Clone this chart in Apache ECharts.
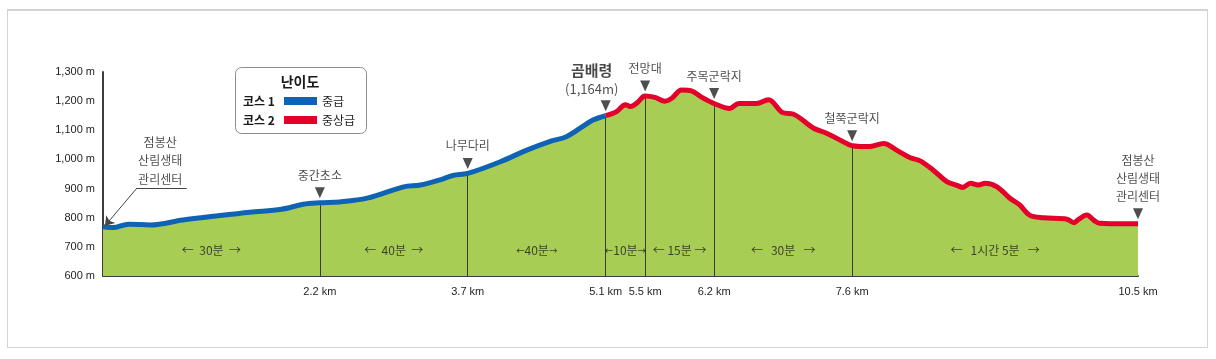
<!DOCTYPE html>
<html><head><meta charset="utf-8">
<script src="https://cdn.jsdelivr.net/npm/echarts@6/dist/echarts.min.js"></script>
<style>
html,body{margin:0;padding:0;background:#fff;}
#frame{position:absolute;left:7px;top:9px;width:1201px;height:339px;border:1px solid #d4d4d4;border-top:2px solid #d4d4d4;box-sizing:border-box;}
#chart{position:absolute;left:0;top:0;width:1216px;height:359px;}
</style></head><body>
<div id="frame"></div>
<div id="chart"></div>
<script>
// Course 1 (blue, 중급): distance km / elevation m
const kmCourse1   = [0.00,0.10,0.26,0.48,0.81,1.15,1.49,1.81,2.03,2.20,2.40,2.68,3.05,3.22,3.42,3.55,3.70,4.03,4.30,4.53,4.70,4.84,4.97,5.10];
const elevCourse1 = [769, 766, 778, 775, 792, 806, 819, 829, 846, 851, 854, 867, 906, 912, 930, 945, 952, 992, 1032,1061,1078,1107,1135,1150];
// Course 2 (red, 중상급)
const kmCourse2   = [5.10,5.21,5.30,5.35,5.42,5.50,5.60,5.70,5.77,5.87,5.97,6.08,6.20,6.36,6.45,6.63,6.75,6.90,7.00,7.21,7.34,7.51,7.60,7.78,7.92,8.05,8.19,8.29,8.42,8.56,8.67,8.72,8.80,8.88,8.95,9.07,9.20,9.30,9.40,9.54,9.78,9.85,9.90,9.98,10.05,10.11,10.38,10.50];
const elevCourse2 = [1150,1164,1188,1182,1195,1218,1213,1200,1210,1238,1235,1212,1192,1175,1192,1192,1205,1160,1156,1107,1090,1061,1047,1044,1055,1032,1006,995, 964, 924, 910, 904, 918, 912, 918, 906, 867, 844, 809, 800, 795, 783, 795, 809, 792, 781, 779, 779];

// Places
const placeKm    = [2.2, 3.7, 5.1, 5.5, 6.2, 7.6, 10.5];
const placeNames = ['중간초소','나무다리','{a|곰배령}\n{b|(1,164m)}','전망대','주목군락지','철쭉군락지','점봉산\n산림생태\n관리센터'];
const startName  = '점봉산\n산림생태\n관리센터';

// Segment boundaries and walking times (w = wide arrow, n = narrow arrow)
const segmentKm  = [0, 2.2, 3.7, 5.1, 5.5, 6.2, 7.6, 10.5];
const segmentTime = ['{w|←}  30분  {w|→}','{w|←}  40분  {w|→}','{n|←}40분{n|→}','{n|←}10분{n|→}','{w|←} 15분 {w|→}','{w|←}   30분   {w|→}','{w|←}   1시간 5분   {w|→}'];

// Axis ticks
const xTickKm = [2.2, 3.7, 5.1, 5.5, 6.2, 7.6, 10.5];
const yMin = 600, yMax = 1300, yStep = 100;

const FONT = '"Noto Sans CJK KR", "Noto Sans", sans-serif';
const GREEN = '#a8cd55', BLUE = '#0e63b5', RED = '#e4002b', TXT = '#1e1e1e';

const course1 = kmCourse1.map((k,i)=>[k, elevCourse1[i]]);
const course2 = kmCourse2.map((k,i)=>[k, elevCourse2[i]]);
const allPts = course1.concat(course2.slice(1));
function elevAt(k){ const p = allPts.find(q=>Math.abs(q[0]-k)<1e-6); return p ? p[1] : null; }

const SMOOTH = 0.35;
const chart = echarts.init(document.getElementById('chart'), null, {renderer:'canvas'});
chart.setOption({
  animation:false,
  backgroundColor:'transparent',
  grid:{left:103, right:78, top:72, bottom:83},
  xAxis:{type:'value', min:0, max:10.5,
    axisLine:{show:true, lineStyle:{color:'#3c3c3c', width:2}},
    axisTick:{show:false}, splitLine:{show:false},
    axisLabel:{customValues:xTickKm, formatter:v=>v.toFixed(1)+' km', color:TXT, fontSize:11, fontFamily:'"Liberation Sans", Arial, sans-serif', margin:10}
  },
  yAxis:{type:'value', min:yMin, max:yMax, interval:yStep,
    axisLine:{show:true, lineStyle:{color:'#3c3c3c', width:2}},
    axisTick:{show:false}, splitLine:{show:false},
    axisLabel:{formatter:v=>v.toLocaleString('en-US')+' m', color:TXT, fontSize:11, fontFamily:'"Liberation Sans", Arial, sans-serif', margin:8}
  },
  legend:{data:['중급','중상급'], orient:'vertical', left:284, top:95, itemWidth:33, itemHeight:8, itemGap:7, icon:'rect', padding:0,
    textStyle:{fontSize:12, lineHeight:12, color:TXT, fontFamily:FONT}, selectedMode:false},
  graphic:[
    {type:'rect', left:235, top:67, z:-1, shape:{width:131, height:66, r:6}, style:{fill:'#fff', stroke:'#8c8c8c', lineWidth:1}},
    {type:'text', x:300, y:82, style:{text:'난이도', font:'bold 14px '+FONT, fill:'#1a1a1a', align:'center', verticalAlign:'middle'}},
    {type:'text', x:243, y:101, style:{text:'코스 1', font:'bold 12px '+FONT, fill:'#1a1a1a', align:'left', verticalAlign:'middle'}},
    {type:'text', x:243, y:120, style:{text:'코스 2', font:'bold 12px '+FONT, fill:'#1a1a1a', align:'left', verticalAlign:'middle'}}
  ],
  series:[
    {type:'line', name:'지형', data:allPts, symbol:'none', smooth:SMOOTH, silent:true, z:1,
      lineStyle:{width:0}, areaStyle:{color:GREEN, opacity:1, origin:'start'},
      markLine:{silent:true, z:2, symbol:['none','none'], label:{show:false},
        lineStyle:{color:'#3a3a30', width:1, type:'solid'},
        data: placeKm.slice(0,6).map(k=>[{coord:[k,yMin]},{coord:[k,elevAt(k)]}])}
    },
    {type:'line', name:'중급', data:course1, symbol:'none', smooth:SMOOTH, z:3,
      lineStyle:{color:BLUE, width:5}, itemStyle:{color:BLUE}},
    {type:'line', name:'중상급', data:course2, symbol:'none', smooth:SMOOTH, z:3,
      lineStyle:{color:RED, width:5}, itemStyle:{color:RED}},
    {type:'scatter', name:'places', z:4, silent:true,
      symbol:'triangle', symbolRotate:180, symbolSize:[10,11], symbolOffset:[0,-10],
      itemStyle:{color:'#222'},
      label:{show:true, position:'top', distance:3, color:TXT, fontSize:12, lineHeight:18, fontFamily:FONT,
        rich:{a:{fontSize:15, fontWeight:'bold', lineHeight:20, color:'#1a1a1a', fontFamily:FONT},
              b:{fontSize:13, lineHeight:17, color:TXT, fontFamily:FONT}}},
      data: placeKm.map((k,i)=>({value:[k, elevAt(k)], label:{formatter:placeNames[i], offset: i===2 ? [-14,0] : [0,0]}}))
    },
    {type:'scatter', name:'times', z:4, silent:true, symbolSize:1, itemStyle:{color:'rgba(0,0,0,0)'},
      label:{show:true, position:'inside', color:TXT, fontSize:12, fontFamily:FONT,
        rich:{w:{fontSize:12, fontFamily:FONT, color:TXT}, n:{fontSize:10, fontFamily:'"DejaVu Sans", sans-serif', color:TXT}}},
      data: segmentTime.map((t,i)=>({value:[(segmentKm[i]+segmentKm[i+1])/2, 686], label:{formatter:t}}))
    },
    {type:'scatter', name:'start', z:4, silent:true, symbolSize:1, itemStyle:{color:'rgba(0,0,0,0)'},
      label:{show:true, position:'inside', color:TXT, fontSize:12, lineHeight:18.5, fontFamily:FONT, formatter:startName},
      data:[[0.58, 995]],
      markLine:{silent:true, z:4, symbol:['none','none'], label:{show:false},
        lineStyle:{color:'#444', width:1, type:'solid'},
        data:[
          [{coord:[0.85,902]},{coord:[0.345,902]}],
          [{coord:[0.345,902]},{coord:[0.02,772], symbol:'arrow', symbolSize:9}]
        ]}
    }
  ]
});
</script>
</body></html>
